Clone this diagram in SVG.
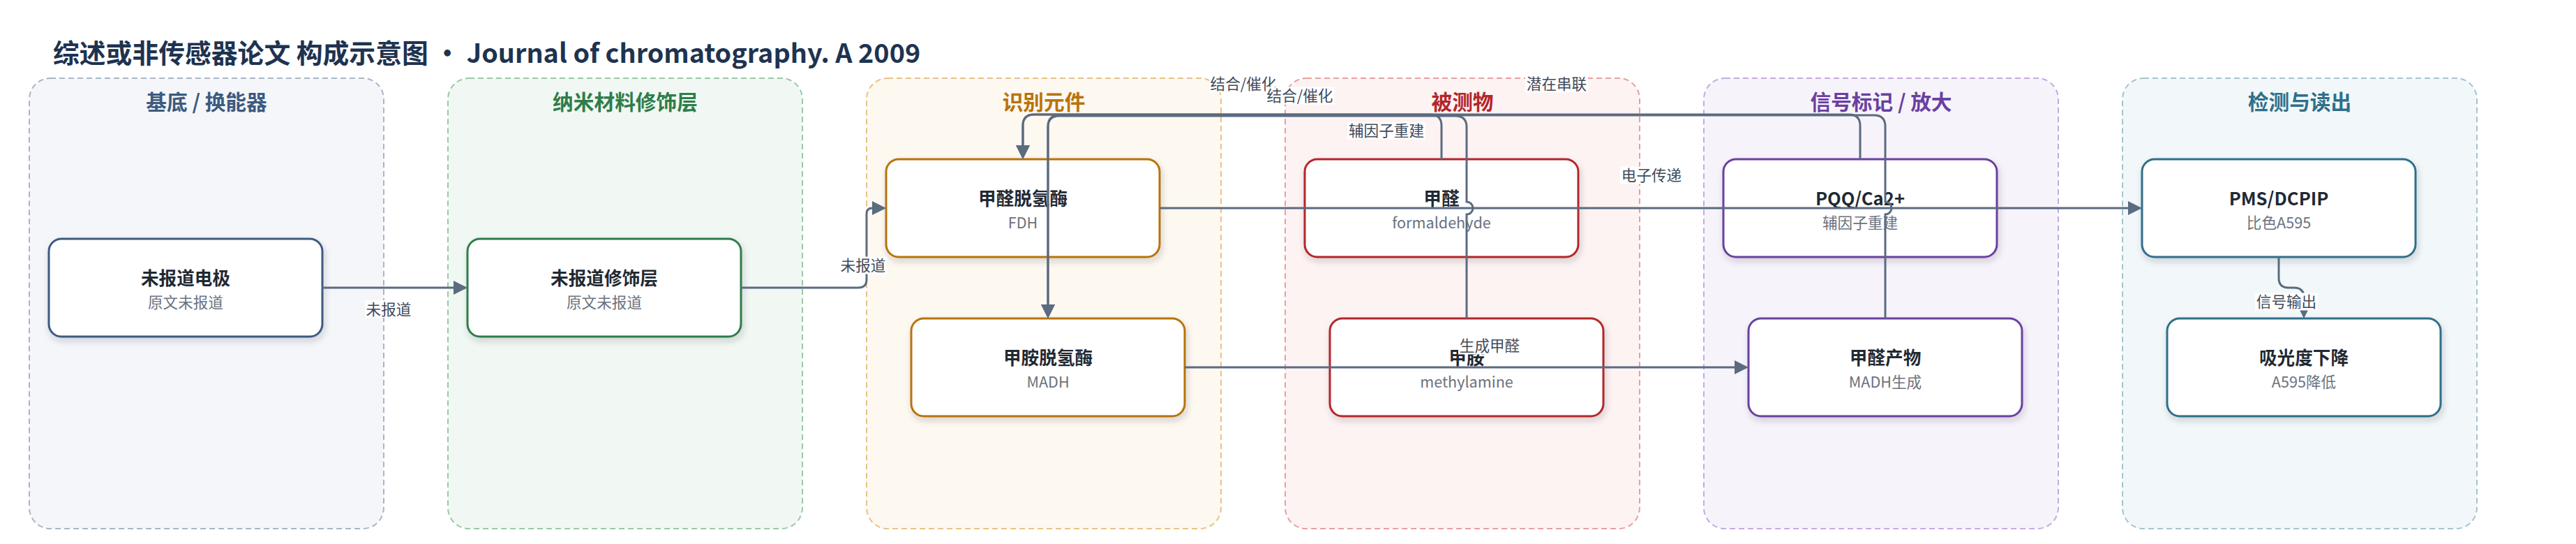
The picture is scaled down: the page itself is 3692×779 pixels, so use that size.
<svg xmlns="http://www.w3.org/2000/svg" width="3692" height="779" viewBox="0 0 3692 779">
<defs>
<style>
text { font-family: "Noto Sans CJK SC", "Noto Sans", sans-serif; }
.title { font-size: 37.8px; font-weight: 700; fill: #1e3350; }
.ptitle { font-size: 29.7px; font-weight: 700; text-anchor: middle; }
.panel { stroke-width: 2; stroke-dasharray: 8 5; }
.node rect { fill: #ffffff; stroke-width: 3; filter: url(#shadow); }
.nt { font-size: 25.65px; font-weight: 700; fill: #1f2933; text-anchor: middle; }
.ns { font-size: 21.6px; fill: #6b7280; text-anchor: middle; }
.edge { fill: none; stroke: #5b6b80; stroke-width: 3; }
.arr { marker-end: url(#arrow); }
.lbl rect { fill: #ffffff; }
.lbl text { font-size: 21.6px; fill: #3f4b5b; text-anchor: middle; }
</style>
<filter id="shadow" x="-10%" y="-20%" width="125%" height="150%">
<feDropShadow dx="2" dy="5" stdDeviation="5" flood-color="#1f2937" flood-opacity="0.18"/>
</filter>
<marker id="arrow" markerUnits="userSpaceOnUse" markerWidth="20" markerHeight="20" viewBox="0 0 20 20" refX="17" refY="10" orient="auto">
<path d="M0,0 L20,10 L0,20 z" fill="#5b6b80"/>
</marker>
</defs>
<rect x="0" y="0" width="3692" height="779" fill="#ffffff"/>
<text class="title" x="76" y="90">综述或非传感器论文 构成示意图 · Journal of chromatography. A 2009</text>

<g id="panels">
<g id="panel-substrate"><rect class="panel" x="42" y="112" width="508" height="645" rx="30" fill="#f4f6fa" stroke="#a9b6c9"/><text class="ptitle" x="296" y="157" fill="#3d5a80">基底 / 换能器</text></g>
<g id="panel-nano"><rect class="panel" x="642" y="112" width="508" height="645" rx="30" fill="#f1f8f3" stroke="#98c9a6"/><text class="ptitle" x="896" y="157" fill="#2e7d4a">纳米材料修饰层</text></g>
<g id="panel-recog"><rect class="panel" x="1242" y="112" width="508" height="645" rx="30" fill="#fdf8f0" stroke="#e6c387"/><text class="ptitle" x="1496" y="157" fill="#b8730a">识别元件</text></g>
<g id="panel-analyte"><rect class="panel" x="1842" y="112" width="508" height="645" rx="30" fill="#fdf3f3" stroke="#e8a0a0"/><text class="ptitle" x="2096" y="157" fill="#b3262a">被测物</text></g>
<g id="panel-signal"><rect class="panel" x="2442" y="112" width="508" height="645" rx="30" fill="#f7f3fb" stroke="#c3ace0"/><text class="ptitle" x="2696" y="157" fill="#6a3fa0">信号标记 / 放大</text></g>
<g id="panel-readout"><rect class="panel" x="3042" y="112" width="508" height="645" rx="30" fill="#f2f7f9" stroke="#a5c4d2"/><text class="ptitle" x="3296" y="157" fill="#2f6f8a">检测与读出</text></g>
</g>

<g id="node-electrode" class="node"><rect x="70" y="342" width="392" height="140" rx="18" stroke="#3d5a80"/><text class="nt" x="266" y="408">未报道电极</text><text class="ns" x="266" y="441">原文未报道</text></g>
<g id="node-modlayer" class="node"><rect x="670" y="342" width="392" height="140" rx="18" stroke="#2e7d4a"/><text class="nt" x="866" y="408">未报道修饰层</text><text class="ns" x="866" y="441">原文未报道</text></g>
<g id="node-fdh" class="node"><rect x="1270" y="228" width="392" height="140" rx="18" stroke="#b8730a"/><text class="nt" x="1466" y="294">甲醛脱氢酶</text><text class="ns" x="1466" y="327">FDH</text></g>
<g id="node-madh" class="node"><rect x="1306" y="456" width="392" height="140" rx="18" stroke="#b8730a"/><text class="nt" x="1502" y="522">甲胺脱氢酶</text><text class="ns" x="1502" y="555">MADH</text></g>
<g id="node-formaldehyde" class="node"><rect x="1870" y="228" width="392" height="140" rx="18" stroke="#b3262a"/><text class="nt" x="2066" y="294">甲醛</text><text class="ns" x="2066" y="327">formaldehyde</text></g>
<g id="node-methylamine" class="node"><rect x="1906" y="456" width="392" height="140" rx="18" stroke="#b3262a"/><text class="nt" x="2102" y="522">甲胺</text><text class="ns" x="2102" y="555">methylamine</text></g>
<g id="node-pqq" class="node"><rect x="2470" y="228" width="392" height="140" rx="18" stroke="#6a3fa0"/><text class="nt" x="2666" y="294">PQQ/Ca2+</text><text class="ns" x="2666" y="327">辅因子重建</text></g>
<g id="node-product" class="node"><rect x="2506" y="456" width="392" height="140" rx="18" stroke="#6a3fa0"/><text class="nt" x="2702" y="522">甲醛产物</text><text class="ns" x="2702" y="555">MADH生成</text></g>
<g id="node-pms" class="node"><rect x="3070" y="228" width="392" height="140" rx="18" stroke="#2f6f8a"/><text class="nt" x="3266" y="294">PMS/DCPIP</text><text class="ns" x="3266" y="327">比色A595</text></g>
<g id="node-absorb" class="node"><rect x="3106" y="456" width="392" height="140" rx="18" stroke="#2f6f8a"/><text class="nt" x="3302" y="522">吸光度下降</text><text class="ns" x="3302" y="555">A595降低</text></g>

<g id="connectors">
<path class="edge arr" d="M462,412 H667"/>
<path class="edge arr" d="M1062,412 H1230 Q1242,412 1242,400 V306 Q1242,298 1250,298 H1267"/>
<path class="edge arr" d="M1662,298 H3067"/>
<path class="edge arr" d="M1698,526 H2503"/>
<path class="edge arr" d="M3266,368 V398 Q3266,412 3280,412 H3288 Q3302,412 3302,426 V453"/>
<path class="edge arr" d="M2066,228 V180 Q2066,164 2050,164 H1482 Q1466,164 1466,180 V225"/>
<path class="edge arr" d="M2102,456 V307 A9,9 0 0 0 2102,289 V182 Q2102,166 2086,166 H1518 Q1502,166 1502,182 V453"/>
<path class="edge arr" d="M2666,228 V180 Q2666,164 2650,164 H1482 Q1466,164 1466,180 V225"/>
<path class="edge arr" d="M2702,456 V307 A9,9 0 0 0 2702,289 V181 Q2702,165 2686,165 H1518 Q1502,165 1502,181 V453"/>
</g>

<g id="edge-labels">
<g class="lbl"><rect x="523" y="430" width="68" height="25"/><text x="557" y="450.5">未报道</text></g>
<g class="lbl"><rect x="1203" y="367.5" width="68" height="25"/><text x="1237" y="388">未报道</text></g>
<g class="lbl"><rect x="2322" y="238.5" width="90" height="25"/><text x="2367" y="259">电子传递</text></g>
<g class="lbl"><rect x="1733" y="107.5" width="98" height="25"/><text x="1782" y="128">结合/催化</text></g>
<g class="lbl"><rect x="1814" y="124.5" width="98" height="25"/><text x="1863" y="145">结合/催化</text></g>
<g class="lbl"><rect x="1931" y="174.5" width="112" height="25"/><text x="1987" y="195">辅因子重建</text></g>
<g class="lbl"><rect x="2186" y="107.5" width="90" height="25"/><text x="2231" y="128">潜在串联</text></g>
<g class="lbl"><rect x="2090" y="482.5" width="90" height="25"/><text x="2135" y="503">生成甲醛</text></g>
<g class="lbl"><rect x="3232" y="419.5" width="90" height="25"/><text x="3277" y="440">信号输出</text></g>
</g>
</svg>
